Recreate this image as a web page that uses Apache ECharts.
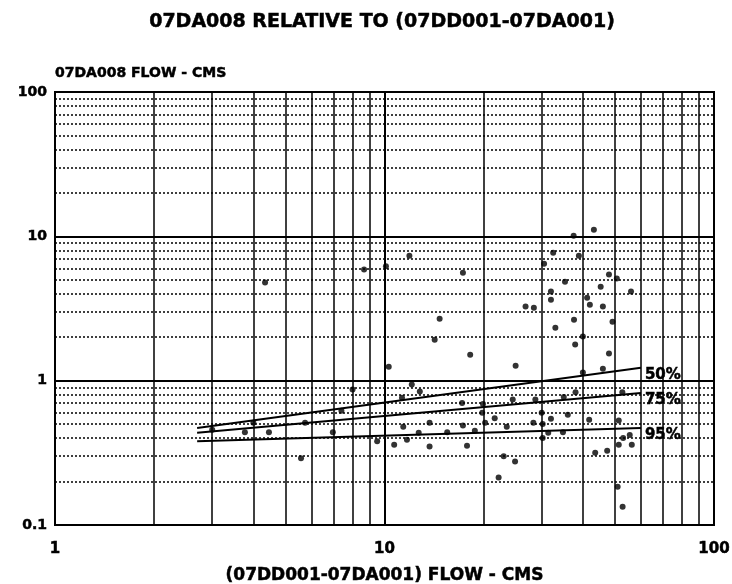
<!DOCTYPE html>
<html>
<head>
<meta charset="utf-8">
<script src="https://cdn.jsdelivr.net/npm/echarts@6/dist/echarts.min.js"></script>
<style>
  html, body { margin: 0; padding: 0; background: #fff; }
  #chart { width: 732px; height: 584px; }
</style>
</head>
<body>
<div id="chart"></div>
<script>
// Texts
const chartTitle = '07DA008 RELATIVE TO (07DD001-07DA001)';
const xAxisTitle = '(07DD001-07DA001) FLOW - CMS';
const yAxisTitle = '07DA008 FLOW - CMS';

// Axis ranges (log scales) and intermediate grid values
const xRange = [1, 100];
const yRange = [0.1, 100];
const xMinorGrid = [2, 3, 4, 5, 6, 7, 8, 9, 20, 30, 40, 50, 60, 70, 80, 90];
const yMinorGrid = [0.2, 0.3, 0.4, 0.5, 0.6, 0.7, 0.8, 0.9,
                    2, 3, 4, 5, 6, 7, 8, 9,
                    20, 30, 40, 50, 60, 70, 80, 90];

// Paired daily flows: [07DD001-07DA001, 07DA008] in m3/s
const observations = [
  [4.34, 4.78], [8.67, 5.88], [7.4, 0.62], [43.2, 11.1], [37.5, 10.1],
  [11.9, 7.35], [10.1, 6.2], [32.5, 7.7], [38.9, 7.35], [30.5, 6.46],
  [17.3, 5.6], [48, 5.43], [50.7, 5.1], [35.3, 4.85], [32, 4.14],
  [45.3, 4.48], [56, 4.14], [32, 3.64], [41.2, 3.76], [42, 3.36],
  [46, 3.26], [26.8, 3.26], [28.4, 3.2], [14.7, 2.69], [37.6, 2.64],
  [49.2, 2.56], [33, 2.33], [14.2, 1.92], [40, 2.02], [37.9, 1.78],
  [18.2, 1.51], [48, 1.54], [10.3, 1.25], [25, 1.27], [46, 1.21],
  [40, 1.14], [12.1, 0.94], [12.8, 0.84], [11.3, 0.76], [17.2, 0.70],
  [19.9, 0.69], [24.5, 0.74], [28.7, 0.74], [35, 0.77], [38, 0.83],
  [52.7, 0.83], [30, 0.60], [21.6, 0.55], [11.4, 0.48], [13.7, 0.51],
  [12.7, 0.436], [15.5, 0.44], [17.3, 0.49], [18.8, 0.45], [11.7, 0.39],
  [13.7, 0.35], [17.8, 0.354], [20.2, 0.51], [23.5, 0.48], [28.3, 0.51],
  [30.2, 0.50], [32, 0.545], [31.4, 0.436], [30.2, 0.40], [34.8, 0.44],
  [36, 0.58], [41.8, 0.535], [51.4, 0.53], [19.8, 0.60], [55.5, 0.42],
  [53, 0.40], [51.4, 0.36], [56.3, 0.36], [23, 0.30], [24.9, 0.275],
  [22.2, 0.213], [43.6, 0.317], [47.4, 0.327], [51, 0.184], [52.8, 0.134],
  [3.0, 0.457], [3.77, 0.44], [4.46, 0.44], [4.0, 0.51], [5.58, 0.29],
  [5.74, 0.51], [6.97, 0.44], [8.0, 0.87], [9.5, 0.38], [10.7, 0.36]
];

// Exceedance lines
const exceedance50 = [[2.7, 0.47], [60, 1.23]];
const exceedance75 = [[2.7, 0.436], [60, 0.82]];
const exceedance95 = [[2.7, 0.38], [60, 0.47]];
const exceedanceNames = ['50%', '75%', '95%'];

const FONT = 'DejaVu Sans';
const INK = '#000';

// heavy lettering: bold face with a thin outline in the same ink
function heavyText(size, extra) {
  return Object.assign({
    fontFamily: FONT, fontWeight: 'bold', fontSize: size, color: INK,
    textBorderColor: INK, textBorderWidth: 0.5
  }, extra || {});
}

function exceedanceSeries(points, name) {
  return {
    type: 'line',
    name: name,
    data: points,
    symbol: 'none',
    z: 4,
    lineStyle: { color: INK, width: 2 },
    endLabel: Object.assign(heavyText(15), {
      show: true,
      formatter: name,
      distance: 4,
      offset: [0, 7]
    })
  };
}

const chart = echarts.init(document.getElementById('chart'), null, { renderer: 'canvas' });

chart.setOption({
  animation: false,
  backgroundColor: '#fff',
  title: {
    text: chartTitle,
    left: 377,
    top: 8,
    textAlign: 'center',
    textStyle: heavyText(19)
  },
  grid: {
    left: 55, right: 18, top: 92, bottom: 59,
    outerBoundsMode: 'none',
    containLabel: false,
    show: true, borderColor: INK, borderWidth: 2, backgroundColor: '#fff'
  },
  xAxis: {
    type: 'log',
    logBase: 10,
    min: xRange[0],
    max: xRange[1],
    name: xAxisTitle,
    nameLocation: 'middle',
    nameGap: 42,
    nameTextStyle: heavyText(17),
    axisLine: { show: true, lineStyle: { color: INK, width: 2 } },
    axisTick: { show: false },
    axisLabel: Object.assign(heavyText(15), {
      margin: 17,
      formatter: v => String(v)
    }),
    splitLine: { show: true, lineStyle: { color: INK, width: 2 } }
  },
  yAxis: {
    type: 'log',
    logBase: 10,
    min: yRange[0],
    max: yRange[1],
    name: yAxisTitle,
    nameLocation: 'end',
    nameGap: 12,
    nameTextStyle: heavyText(14, { align: 'left', verticalAlign: 'bottom' }),
    axisLine: { show: true, lineStyle: { color: INK, width: 2 } },
    axisTick: { show: false },
    axisLabel: Object.assign(heavyText(14), {
      margin: 8,
      formatter: v => String(v)
    }),
    splitLine: { show: true, lineStyle: { color: INK, width: 2 } }
  },
  series: [
    {
      // vertical grid at intermediate values
      type: 'line',
      data: [],
      silent: true,
      z: 1,
      markLine: {
        silent: true,
        symbol: ['none', 'none'],
        label: { show: false },
        lineStyle: { color: INK, width: 1.5, type: 'solid' },
        data: xMinorGrid.map(v => ({ xAxis: v }))
      }
    },
    {
      // horizontal dotted grid at intermediate values
      type: 'line',
      data: [],
      silent: true,
      z: 1,
      markLine: {
        silent: true,
        symbol: ['none', 'none'],
        label: { show: false },
        lineStyle: { color: INK, width: 1.5, type: [2, 2] },
        data: yMinorGrid.map(v => ({ yAxis: v }))
      }
    },
    exceedanceSeries(exceedance50, exceedanceNames[0]),
    exceedanceSeries(exceedance75, exceedanceNames[1]),
    exceedanceSeries(exceedance95, exceedanceNames[2]),
    {
      type: 'scatter',
      data: observations,
      symbol: 'circle',
      symbolSize: 6,
      z: 5,
      itemStyle: { color: INK }
    }
  ]
});
</script>
</body>
</html>
